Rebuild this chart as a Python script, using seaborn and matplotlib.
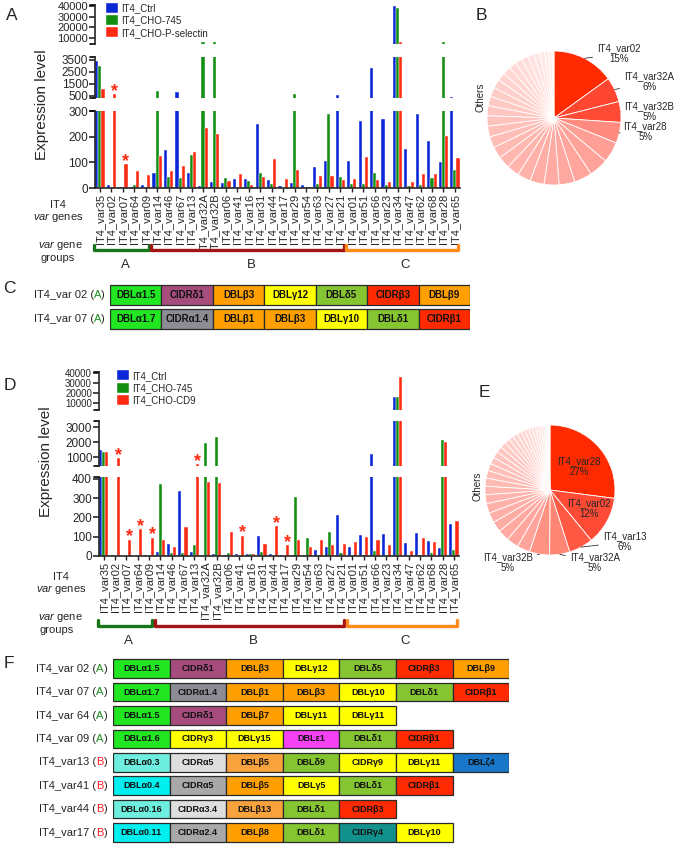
import numpy as np
import pandas as pd
import matplotlib
matplotlib.use('Agg')
import matplotlib.pyplot as plt
import seaborn as sns

# ---------------- data ----------------
genes = ['IT4_var35', 'IT4_var02', 'IT4_var07', 'IT4_var64', 'IT4_var09',
         'IT4_var14', 'IT4_var46', 'IT4_var67', 'IT4_var13', 'IT4_var32A',
         'IT4_var32B', 'IT4_var06', 'IT4_var41', 'IT4_var16', 'IT4_var31',
         'IT4_var44', 'IT4_var17', 'IT4_var29', 'IT4_var54', 'IT4_var63',
         'IT4_var27', 'IT4_var21', 'IT4_var01', 'IT4_var51', 'IT4_var66',
         'IT4_var23', 'IT4_var34', 'IT4_var47', 'IT4_var62', 'IT4_var68',
         'IT4_var28', 'IT4_var65']
group_names = ['A', 'B', 'C']
group_sizes = [5, 17, 10]

conds_a = ['IT4_Ctrl', 'IT4_CHO-745', 'IT4_CHO-P-selectin']
a_ctrl = [3400, 10, 3, 5, 10, 58, 148, 830, 58, 8, 25, 18, 35, 35, 248, 30, 8, 18,
          10, 82, 105, 550, 105, 260, 2800, 270, 40000, 150, 288, 185, 100, 450]
a_cho745 = [3000, 5, 2, 12, 3, 950, 43, 40, 128, 6200, 6200, 40, 5, 28, 60, 14, 1, 700,
            5, 14, 290, 42, 15, 17, 58, 13, 38000, 7, 10, 38, 6200, 72]
a_psel = [1100, 650, 92, 65, 50, 125, 65, 85, 140, 233, 210, 28, 53, 12, 43, 113, 35, 70,
          3, 46, 47, 30, 35, 120, 32, 25, 6300, 25, 55, 53, 203, 115]
a_stars = ['IT4_var02', 'IT4_var07']

conds_d = ['IT4_Ctrl', 'IT4_CHO-745', 'IT4_CHO-CD9']
d_ctrl = [1470, 3, 0, 0, 3, 22, 60, 338, 22, 3, 10, 5, 12, 12, 103, 12, 3, 5,
          5, 33, 45, 213, 45, 110, 1200, 113, 16000, 65, 120, 78, 42, 166]
d_cho745 = [1300, 0, 0, 5, 0, 375, 18, 15, 55, 1930, 2330, 15, 0, 12, 22, 5, 0, 305,
            95, 5, 125, 18, 5, 5, 25, 5, 16500, 0, 3, 15, 2130, 30]
d_cd9 = [1330, 930, 85, 140, 95, 82, 45, 150, 530, 384, 380, 125, 105, 12, 60, 155, 55, 85,
         48, 85, 55, 62, 75, 100, 85, 58, 36000, 28, 93, 75, 2000, 182]
d_stars = ['IT4_var02', 'IT4_var07', 'IT4_var64', 'IT4_var09', 'IT4_var13',
           'IT4_var41', 'IT4_var44', 'IT4_var17']

b_names = ['IT4_var02', 'IT4_var32A', 'IT4_var32B', 'IT4_var28']
b_pct = [15, 6, 5, 5]
b_others = [5.0, 4.6, 4.3, 3.8, 3.6, 3.4, 3.2, 3.0, 2.9, 2.8, 2.7, 2.6, 2.5, 2.4,
            2.3, 2.2, 2.1, 2.0, 1.9, 1.8, 1.7, 1.6, 1.5, 1.4, 1.2, 1.0, 0.8, 0.5]

e_names = ['IT4_var28', 'IT4_var02', 'IT4_var13', 'IT4_var32A', 'IT4_var32B']
e_pct = [27, 12, 6, 5, 5]
e_others = [3.2, 3.0, 2.8, 2.6, 2.5, 2.4, 2.2, 2.1, 2.0, 1.9, 1.8, 1.7, 1.6, 1.5, 1.4,
            1.3, 1.2, 1.2, 1.1, 1.0, 1.0, 0.9, 0.8, 0.8, 0.7, 0.6, 0.5, 0.4, 0.3, 0.3]

c_genes = ['IT4_var 02', 'IT4_var 07']
c_groups = ['A', 'A']
c_domains = [['DBLα1.5', 'CIDRδ1', 'DBLβ3', 'DBLγ12', 'DBLδ5', 'CIDRβ3', 'DBLβ9'],
             ['DBLα1.7', 'CIDRα1.4', 'DBLβ1', 'DBLβ3', 'DBLγ10', 'DBLδ1', 'CIDRβ1']]

f_genes = ['IT4_var 02', 'IT4_var 07', 'IT4_var 64', 'IT4_var 09',
           'IT4_var13', 'IT4_var41', 'IT4_var44', 'IT4_var17']
f_groups = ['A', 'A', 'A', 'A', 'B', 'B', 'B', 'B']
f_domains = [['DBLα1.5', 'CIDRδ1', 'DBLβ3', 'DBLγ12', 'DBLδ5', 'CIDRβ3', 'DBLβ9'],
             ['DBLα1.7', 'CIDRα1.4', 'DBLβ1', 'DBLβ3', 'DBLγ10', 'DBLδ1', 'CIDRβ1'],
             ['DBLα1.5', 'CIDRδ1', 'DBLβ7', 'DBLγ11', 'DBLγ11'],
             ['DBLα1.6', 'CIDRγ3', 'DBLγ15', 'DBLε1', 'DBLδ1', 'CIDRβ1'],
             ['DBLα0.3', 'CIDRα5', 'DBLβ5', 'DBLδ9', 'CIDRγ9', 'DBLγ11', 'DBLζ4'],
             ['DBLα0.4', 'CIDRα5', 'DBLβ5', 'DBLγ5', 'DBLδ1', 'CIDRβ1'],
             ['DBLα0.16', 'CIDRα3.4', 'DBLβ13', 'DBLδ1', 'CIDRβ3'],
             ['DBLα0.11', 'CIDRα2.4', 'DBLβ8', 'DBLδ1', 'CIDRγ4', 'DBLγ10']]

# ---------------- styles ----------------
bar_colors = ['#0a26d6', '#128f12', '#ff2a12']
group_cols = ['#17751a', '#a31515', '#ff8a1c']
letter_cols = {'A': '#1d8c1d', 'B': '#ff2020'}
G1, MV, OR, LO, YE, LI = '#22e622', '#a64d7e', '#ffa000', '#f7a23c', '#ffff00', '#86c532'
RE, GR, MG, LG, PC, CY = '#ff2a00', '#8c8c95', '#a8a8a8', '#dedede', '#6eeede', '#00f0f0'
MA, TE, BL = '#f442f4', '#12908c', '#1877c9'
c_colors = [[G1, MV, OR, YE, LI, RE, OR], [G1, GR, OR, OR, YE, LI, RE]]
f_colors = [[G1, MV, OR, YE, LI, RE, OR], [G1, GR, OR, OR, YE, LI, RE],
            [G1, MV, OR, YE, YE], [G1, YE, YE, MA, LI, RE],
            [PC, LG, LO, LI, YE, YE, BL], [CY, MG, OR, YE, LI, RE],
            [PC, LG, LO, LI, RE], [CY, MG, OR, LI, TE, YE]]

sns.set_style('ticks')
plt.rcParams['font.family'] = ['Liberation Sans', 'DejaVu Sans']
plt.rcParams['mathtext.fontset'] = 'custom'
plt.rcParams['mathtext.it'] = 'Liberation Sans:italic'
plt.rcParams['mathtext.rm'] = 'Liberation Sans'

W, H = 675, 847
fig = plt.figure(figsize=(W / 100, H / 100), dpi=100)


def add_ax(x0, y0, x1, y1):
    return fig.add_axes([x0 / W, 1 - y1 / H, (x1 - x0) / W, (y1 - y0) / H])


def ftext(x, y, s, **kw):
    fig.text(x / W, 1 - y / H, s, **kw)


def bar_panel(values, conds, x0, x1, segs, stars, leg_anchor, grp_box):
    df = pd.DataFrame({'gene': genes * len(conds),
                       'condition': [c for c in conds for _ in genes],
                       'value': [v for vals in values for v in vals]})
    axes = []
    for k, (yt, yb, lim, ticks, fs) in enumerate(segs):
        ax = add_ax(x0, yt, x1, yb)
        last = k == len(segs) - 1
        sns.barplot(data=df, x='gene', y='value', hue='condition', order=genes,
                    hue_order=conds, palette=bar_colors, saturation=1, width=0.82,
                    linewidth=0.3, edgecolor='white', errorbar=None,
                    legend=(k == 0), ax=ax)
        ax.set_xlim(-0.43, len(genes) - 0.55)
        ax.set_ylim(lim)
        ax.set_yticks(ticks)
        ax.yaxis.set_major_formatter('{x:.0f}')
        ax.set_xlabel('')
        ax.set_ylabel('')
        sns.despine(ax=ax, bottom=not last)
        for sp in ax.spines.values():
            sp.set_linewidth(1.2)
        ax.tick_params(axis='y', labelsize=fs, length=4, width=1.2, pad=1)
        if last:
            ax.set_xticks(range(len(genes)))
            ax.set_xticklabels(genes, rotation=90, fontsize=8)
            ax.tick_params(axis='x', length=3, width=1, pad=1)
        else:
            ax.tick_params(axis='x', bottom=False, labelbottom=False)
        # caps on broken segments
        for yy in ([0, 1] if not last else [1]):
            ax.plot([-0.014, 0], [yy, yy], transform=ax.transAxes, color='black',
                    lw=1.2, clip_on=False)
        axes.append(ax)
    sns.move_legend(axes[0], 'upper left', bbox_to_anchor=leg_anchor, frameon=False,
                    title=None, fontsize=7, handlelength=1.2, handleheight=1.2,
                    labelspacing=0.22, handletextpad=0.4, borderaxespad=0, borderpad=0)
    # significance stars on the red series
    off = 0.82 / 3
    for g in stars:
        i = genes.index(g)
        v = values[2][i]
        for ax, seg in zip(axes[::-1], segs[::-1]):
            if v <= seg[2][1]:
                ax.annotate('*', xy=(i + off, v), xytext=(0, 2), textcoords='offset points',
                            ha='center', va='center', color='#ff2a12', fontsize=13,
                            fontweight='bold', annotation_clip=False)
                break
    # var gene group brackets
    gx = add_ax(x0, grp_box[0], x1, grp_box[1])
    gx.set_xlim(-0.43, len(genes) - 0.55)
    gx.set_ylim(0, 1)
    gx.axis('off')
    start = 0
    for name, size, col in zip(group_names, group_sizes, group_cols):
        s, e = start - 0.5, start + size - 1 + 0.3
        gx.plot([s, s, e, e], [0.84, 0.68, 0.68, 0.84], color=col, lw=2.4,
                solid_joinstyle='round', solid_capstyle='round', clip_on=False)
        gx.text((s + e) / 2 + 0.3, 0.22, name, ha='center', va='center', fontsize=9.5)
        start += size
    return axes


# ---- panel A ----
bar_panel([a_ctrl, a_cho745, a_psel], conds_a, 95, 460,
          [(5, 44, (4400, 41000), [10000, 20000, 30000, 40000], 8),
           (57, 98, (330, 3750), [500, 1500, 2500, 3500], 8.5),
           (111, 188, (0, 300), [0, 100, 200, 300], 8.5)],
          a_stars, (0.03, 1.06), (240, 272))
ftext(42, 105, 'Expression level', rotation=90, ha='center', va='center', fontsize=11)
ftext(58, 205, 'IT4', ha='center', va='center', fontsize=8)
ftext(58, 218, '$\\it{var}$ genes', ha='center', va='center', fontsize=8)
ftext(60, 246, '$\\it{var}$ gene', ha='center', va='center', fontsize=8)
ftext(58, 258, 'groups', ha='center', va='center', fontsize=8)

# ---- panel D ----
bar_panel([d_ctrl, d_cho745, d_cd9], conds_d, 99, 459,
          [(372, 410, (3400, 40800), [10000, 20000, 30000, 40000], 7),
           (421, 466, (400, 3400), [1000, 2000, 3000], 8.5),
           (477, 556, (0, 410), [0, 100, 200, 300, 400], 8.5)],
          d_stars, (0.05, 1.04), (615, 648))
ftext(46, 462, 'Expression level', rotation=90, ha='center', va='center', fontsize=11)
ftext(61, 577, 'IT4', ha='center', va='center', fontsize=8)
ftext(61, 590, '$\\it{var}$ genes', ha='center', va='center', fontsize=8)
ftext(60, 618, '$\\it{var}$ gene', ha='center', va='center', fontsize=8)
ftext(57, 630, 'groups', ha='center', va='center', fontsize=8)


# ---- pies ----
def pie_panel(box, names, pct, others, named_cols, oth_range, label_pos, inside, others_xy):
    ax = add_ax(*box)
    cols = named_cols + sns.blend_palette(oth_range, len(others)).as_hex()
    wedges, _ = ax.pie(pct + others, colors=cols, startangle=90, counterclock=False,
                       wedgeprops=dict(edgecolor='white', linewidth=0.6))
    ax.set_xlim(-1, 1)
    ax.set_ylim(-1, 1)
    ax.set_aspect('equal')
    for k, name in enumerate(names):
        lbl = f'{name}\n{pct[k]:.0f}%'
        tx, ty = label_pos[k]
        if inside[k]:
            ax.text(tx, ty, lbl, ha='center', va='center', fontsize=7, linespacing=1.1)
        else:
            ang = np.deg2rad((wedges[k].theta1 + wedges[k].theta2) / 2)
            ax.annotate(lbl, xy=(np.cos(ang), np.sin(ang)), xytext=(tx, ty),
                        ha='center', va='center', fontsize=7, linespacing=1.1,
                        annotation_clip=False,
                        arrowprops=dict(arrowstyle='-', lw=0.6, color='#333333',
                                        shrinkA=1, shrinkB=0))
    ax.text(others_xy[0], others_xy[1], 'Others', rotation=90, ha='center',
            va='center', fontsize=7)


pie_panel((487, 51, 621, 185), b_names, b_pct, b_others,
          ['#ff2a00', '#ff4630', '#ff4a36', '#ff8a80'], ['#ff9f96', '#fff1ef'],
          [(0.97, 0.96), (1.42, 0.55), (1.42, 0.1), (1.36, -0.2)],
          [False] * 4, (-1.1, 0.31))
pie_panel((485, 425, 615, 555), e_names, e_pct, e_others,
          ['#ff2a00', '#ff4a35', '#ff5843', '#ff8575', '#ff9283'], ['#ffa49b', '#fff3f1'],
          [(0.45, 0.36), (0.6, -0.28), (1.15, -0.8), (0.69, -1.12), (-0.65, -1.12)],
          [True, True, False, False, False], (-1.11, 0.05))


# ---- domain architecture panels ----
def domain_panel(x0, y0, unit, pitch, names, grps, doms, cols, fs, bh):
    n = len(names)
    ax = add_ax(x0, y0, x0 + 7 * unit, y0 + n * pitch)
    ax.set_xlim(0, 7)
    ax.set_ylim(n - 0.5, -0.5)
    ax.axis('off')
    for r in range(n):
        m = len(doms[r])
        ax.barh([r] * m, [1] * m, left=list(range(m)), height=bh, color=cols[r],
                edgecolor='#2a2a2a', linewidth=0.9)
        for j, d in enumerate(doms[r]):
            ax.text(j + 0.5, r, d, ha='center', va='center', fontsize=fs,
                    fontweight='bold', color='#111111')
        t1 = ax.text(-0.1, r, ')', ha='right', va='center', fontsize=8)
        t2 = ax.annotate(grps[r], xy=(0, 0), xycoords=t1, ha='right', va='bottom',
                         fontsize=8, color=letter_cols[grps[r]])
        ax.annotate(names[r] + ' (', xy=(0, 0), xycoords=t2, ha='right', va='bottom',
                    fontsize=8)


domain_panel(110, 283, 51.43, 24, c_genes, c_groups, c_domains, c_colors, 7, 0.84)
domain_panel(113, 657, 56.6, 23.4, f_genes, f_groups, f_domains, f_colors, 6.5, 0.8)

# ---- panel letters ----
for lt, (x, y) in zip('ABCDEF', [(12, 16), (481, 15), (9, 288), (10, 385), (484, 392), (9, 664)]):
    ftext(x, y, lt, ha='center', va='center', fontsize=12.5)

fig.savefig('out.png', dpi=100)
